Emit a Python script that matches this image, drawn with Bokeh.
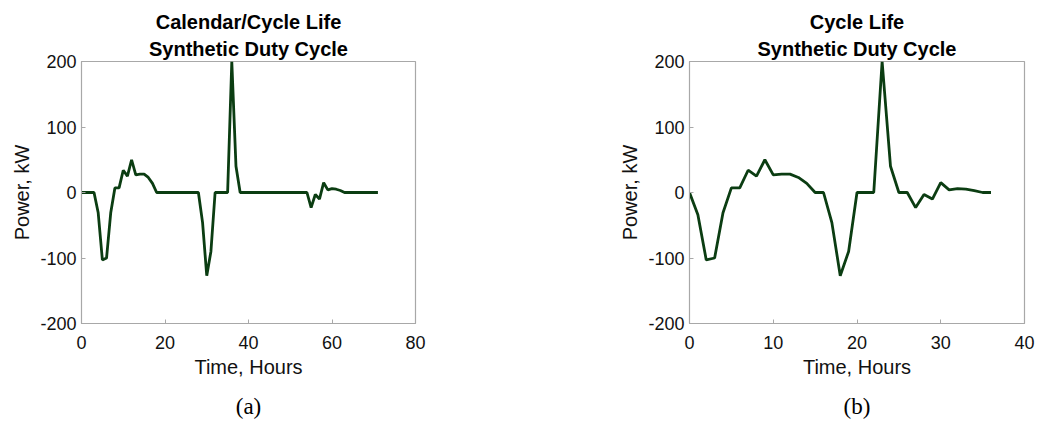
from bokeh.plotting import figure
from bokeh.layouts import row
from bokeh.models import Title, FixedTicker, Range1d
from bokeh.embed import file_html
from bokeh.resources import INLINE

# (a) Calendar/Cycle life duty cycle, hourly samples
hours_a = list(range(0, 72))
power_a = [0, 0, 0, 0, -31, -103, -100, -31, 7, 7,
           34, 25, 50, 27, 28, 28, 23, 14, 0, 0,
           0, 0, 0, 0, 0, 0, 0, 0, 0, -46,
           -127, -90, 0, 0, 0, 0, 200, 40, 0, 0,
           0, 0, 0, 0, 0, 0, 0, 0, 0, 0,
           0, 0, 0, 0, 0, -23, -3, -10, 15, 4,
           6, 5, 3, 0, 0, 0, 0, 0, 0, 0,
           0, 0]

# (b) Cycle life duty cycle, hourly samples
hours_b = list(range(0, 37))
power_b = [0, -34, -103, -100, -31, 7, 7, 34, 25, 50,
           27, 28, 28, 23, 14, 0, 0, -46, -127, -90,
           0, 0, 0, 200, 40, 0, 0, -23, -3, -10,
           15, 4, 6, 5, 3, 0, 0]

x_ticks_a = [0, 20, 40, 60, 80]
x_ticks_b = [0, 10, 20, 30, 40]
y_ticks = [-200, -100, 0, 100, 200]

LINE = "#0b3d12"
FRAME = "#a8a8a8"
SANS = "Liberation Sans"


def panel(xs, ys, xmax, xticks, line1, line2, caption, width, left, right):
    p = figure(width=width, height=429, output_backend="svg", toolbar_location=None,
               x_range=Range1d(0, xmax), y_range=Range1d(-200, 200),
               min_border_left=left, min_border_right=right,
               min_border_top=61, min_border_bottom=105,
               title=None)
    p.line(xs, ys, line_color=LINE, line_width=2.8)

    p.grid.visible = False
    p.outline_line_color = FRAME
    p.outline_line_width = 1.2

    for ax in (p.xaxis[0], p.yaxis[0]):
        ax.axis_line_color = FRAME
        ax.major_tick_line_color = FRAME
        ax.major_tick_in = 4
        ax.major_tick_out = 0
        ax.minor_tick_line_color = None
        ax.major_label_text_font = SANS
        ax.major_label_text_font_size = "18px"
        ax.major_label_text_color = "#111111"
        ax.axis_label_text_font = SANS
        ax.axis_label_text_font_size = "20px"
        ax.axis_label_text_font_style = "normal"
        ax.axis_label_text_color = "#111111"

    p.xaxis.ticker = FixedTicker(ticks=xticks)
    p.yaxis.ticker = FixedTicker(ticks=y_ticks)
    # plain hyphen for negative tick labels
    p.yaxis.major_label_overrides = {float(t): str(t) for t in y_ticks}
    p.xaxis.axis_label = "Time, Hours"
    p.yaxis.axis_label = "Power, kW"
    p.xaxis.major_label_standoff = 12
    p.xaxis.axis_label_standoff = 4
    p.yaxis.major_label_standoff = 5
    p.yaxis.axis_label_standoff = 4

    # two-line bold title, first added sits nearest the frame
    p.add_layout(Title(text=line2, align="center", text_font=SANS,
                       text_font_size="20px", text_font_style="bold",
                       text_color="#000000", standoff=4), "above")
    p.add_layout(Title(text=line1, align="center", text_font=SANS,
                       text_font_size="20px", text_font_style="bold",
                       text_color="#000000", standoff=2), "above")

    # panel caption underneath
    p.add_layout(Title(text=caption, align="center", text_font="Liberation Serif",
                       text_font_size="23px", text_font_style="normal",
                       text_color="#000000", standoff=22), "below")
    return p


pa = panel(hours_a, power_a, 80, x_ticks_a, "Calendar/Cycle Life",
           "Synthetic Duty Cycle", "(a)", 520, 81, 105)
pb = panel(hours_b, power_b, 40, x_ticks_b, "Cycle Life",
           "Synthetic Duty Cycle", "(b)", 520, 169, 16)

layout = row(pa, pb)
open("out.html", "w").write(file_html(layout, INLINE))
